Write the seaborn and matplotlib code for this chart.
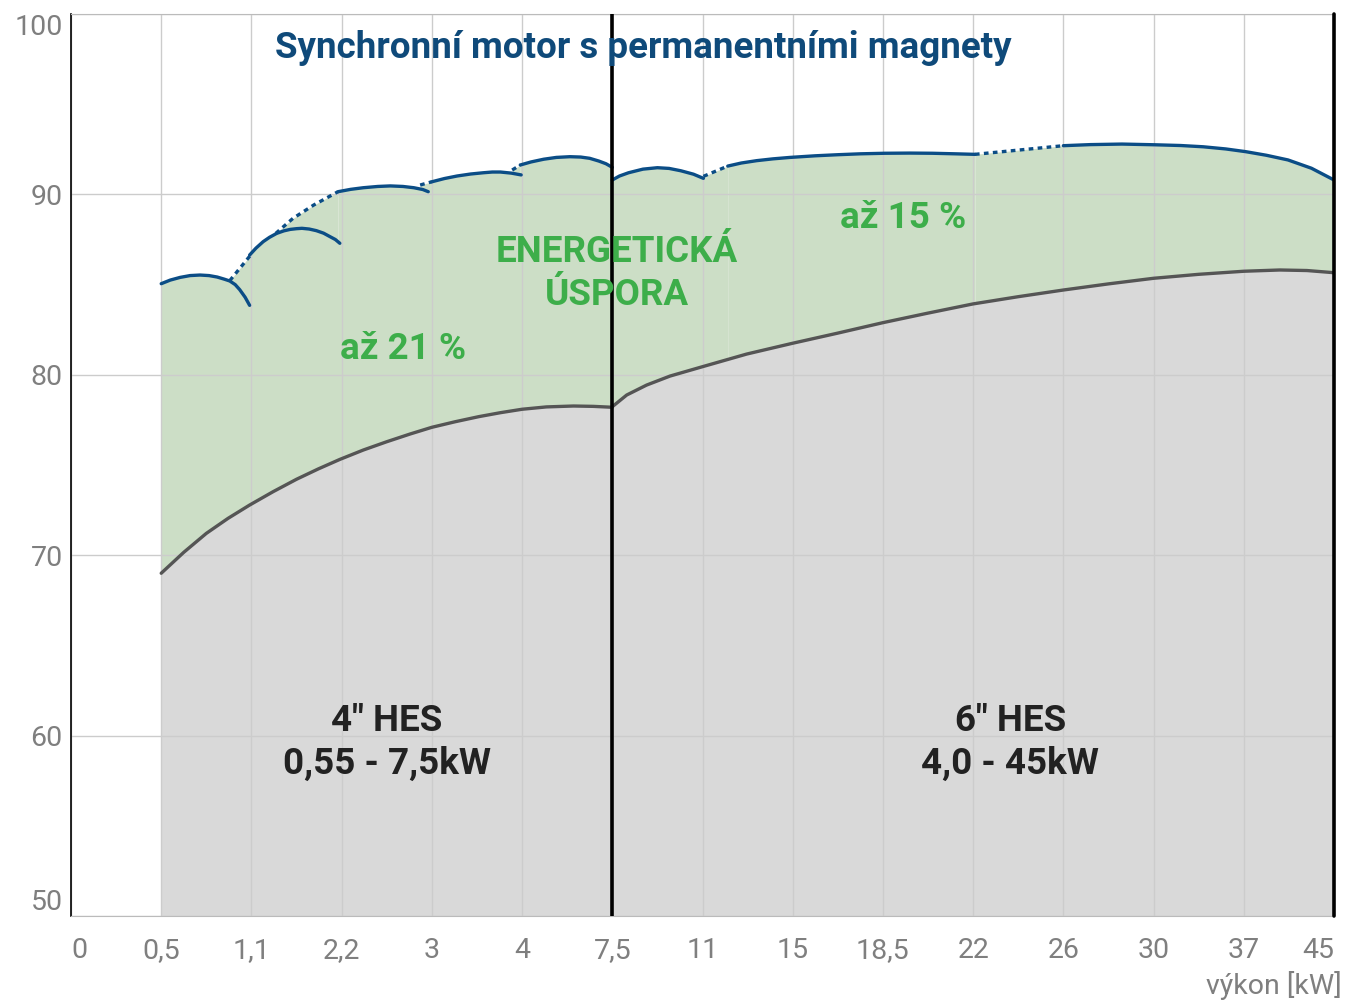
import pandas as pd
import seaborn as sns
import matplotlib
matplotlib.use("Agg")
import matplotlib.pyplot as plt

# x axis categories (kW), drawn at equal spacing: position 0 = "0", 14 = "45"
power_labels = ["0", "0,5", "1,1", "2,2", "3", "4", "7,5", "11", "15",
                "18,5", "22", "26", "30", "37", "45"]
eff_ticks = [50, 60, 70, 80, 90, 100]

# asynchronous motor efficiency (grey curve), x in category positions
async4_x = [1.0, 1.25, 1.5, 1.74, 1.98, 2.24, 2.5, 2.74, 2.98, 3.24, 3.5, 3.76,
            4.0, 4.26, 4.52, 4.76, 5.0, 5.27, 5.57, 5.79, 6.0]
async4_y = [69.0, 70.16, 71.21, 72.04, 72.78, 73.52, 74.21, 74.78, 75.31, 75.83,
            76.29, 76.72, 77.09, 77.4, 77.68, 77.9, 78.09, 78.22, 78.27, 78.25, 78.2]
async6_x = [6.0, 6.16, 6.38, 6.64, 7.0, 7.49, 8.0, 8.49, 9.0, 9.49, 10.0, 10.5,
            11.0, 11.5, 12.0, 12.5, 13.0, 13.4, 13.7, 14.0]
async6_y = [78.23, 78.88, 79.43, 79.93, 80.45, 81.15, 81.75, 82.3, 82.89, 83.41,
            83.93, 84.33, 84.7, 85.04, 85.35, 85.57, 85.74, 85.81, 85.78, 85.66]

# PM synchronous motor arcs (blue), one arc per motor size
pm1_x = [1.0, 1.1, 1.21, 1.32, 1.43, 1.53, 1.62, 1.7, 1.76, 1.82, 1.87, 1.93, 1.98]
pm1_y = [85.05, 85.25, 85.4, 85.5, 85.53, 85.5, 85.42, 85.3, 85.2, 85.0, 84.72, 84.3, 83.85]
pm2_x = [1.98, 2.05, 2.13, 2.2, 2.28, 2.36, 2.43, 2.5, 2.56, 2.64, 2.72, 2.8, 2.87, 2.93, 2.98]
pm2_y = [86.64, 87.02, 87.38, 87.62, 87.84, 87.98, 88.06, 88.1, 88.12, 88.08, 87.99,
         87.85, 87.66, 87.5, 87.29]
pm3_x = [2.96, 3.1, 3.24, 3.4, 3.54, 3.68, 3.8, 3.9, 3.96]
pm3_y = [90.15, 90.28, 90.37, 90.44, 90.47, 90.44, 90.37, 90.27, 90.15]
pm4_x = [4.0, 4.14, 4.28, 4.43, 4.57, 4.67, 4.76, 4.88, 4.99]
pm4_y = [90.7, 90.88, 91.02, 91.13, 91.2, 91.24, 91.24, 91.18, 91.08]
pm5_x = [4.98, 5.1, 5.24, 5.38, 5.53, 5.65, 5.75, 5.85, 5.93, 6.0]
pm5_y = [91.63, 91.8, 91.95, 92.05, 92.09, 92.07, 92.0, 91.85, 91.7, 91.5]
pm6_x = [6.0, 6.08, 6.18, 6.34, 6.5, 6.63, 6.76, 6.9, 7.01]
pm6_y = [90.8, 91.02, 91.2, 91.4, 91.48, 91.44, 91.31, 91.12, 90.89]
pm7_x = [7.28, 7.43, 7.6, 7.78, 7.97, 8.25, 8.5, 8.75, 9.02, 9.3, 9.55, 9.8, 10.02]
pm7_y = [91.57, 91.74, 91.87, 91.97, 92.05, 92.14, 92.2, 92.25, 92.28, 92.29, 92.28,
         92.25, 92.22]
pm8_x = [11.0, 11.3, 11.65, 12.02, 12.3, 12.55, 12.8, 13.02, 13.25, 13.49, 13.75, 14.0]
pm8_y = [92.7, 92.76, 92.79, 92.75, 92.71, 92.64, 92.52, 92.37, 92.17, 91.91, 91.45, 90.8]

# dotted links between the arcs
link_x = [[1.76, 1.99], [2.27, 2.46, 2.69, 2.96], [3.87, 4.0], [4.89, 4.98],
          [7.01, 7.28], [10.02, 11.0]]
link_y = [[85.22, 86.63], [87.84, 88.67, 89.41, 90.15], [90.52, 90.7], [91.35, 91.63],
          [91.0, 91.57], [92.22, 92.7]]

BLUE = "#0b4d86"
GREEN_FILL = "#ccdec6"
GREY_FILL = "#d9d9d9"
GREEN_TXT = "#3dae4a"
TICK = "#7f7f7f"

sns.set_style("white")
plt.rcParams["font.family"] = "Roboto"

fig = plt.figure(figsize=(13.46, 10.01), dpi=100)
ax = fig.add_axes([71 / 1346, 85 / 1001, 1263 / 1346, 902 / 1001])

arcs = [(pm1_x, pm1_y), (pm2_x, pm2_y), (pm3_x, pm3_y), (pm4_x, pm4_y),
        (pm5_x, pm5_y), (pm6_x, pm6_y), (pm7_x, pm7_y), (pm8_x, pm8_y)]
links = list(zip(link_x, link_y))
grey_curves = [(async4_x, async4_y), (async6_x, async6_y)]

# green saving area = everything under the blue arcs and links
for xs, ys in arcs + links:
    ax.fill_between(xs, 50, ys, color=GREEN_FILL, lw=0, zorder=1)
for xs, ys in grey_curves:
    ax.fill_between(xs, 50, ys, color=GREY_FILL, lw=0, zorder=1.1)

for xs, ys in grey_curves:
    df = pd.DataFrame({"x": xs, "y": ys})
    sns.lineplot(data=df, x="x", y="y", ax=ax, color="#555555", lw=2.4,
                 sort=False, estimator=None, zorder=3)
for xs, ys in arcs:
    df = pd.DataFrame({"x": xs, "y": ys})
    sns.lineplot(data=df, x="x", y="y", ax=ax, color=BLUE, lw=2.4,
                 sort=False, estimator=None, zorder=3)
for xs, ys in links:
    df = pd.DataFrame({"x": xs, "y": ys})
    sns.lineplot(data=df, x="x", y="y", ax=ax, color=BLUE, lw=2.4,
                 sort=False, estimator=None, zorder=3, linestyle=(0, (1.4, 1.3)))

ax.axvline(6, color="black", lw=2.6, zorder=4)
ax.axvline(14, color="black", lw=2.6, zorder=4, clip_on=False)

ax.set_xlim(0, 14)
ax.set_ylim(50, 100)
ax.set_xticks(range(len(power_labels)))
ax.set_xticklabels(power_labels)
ax.set_yticks(eff_ticks)
ax.set_axisbelow("line")
ax.grid(True, color="#cccccc", lw=1)
ax.tick_params(length=0, labelsize=20.5, labelcolor=TICK)
ax.tick_params(axis="x", pad=15)
ax.tick_params(axis="y", pad=6)
ax.get_xticklabels()[0].set_ha("left")
ax.get_xticklabels()[-1].set_ha("right")
ax.get_yticklabels()[-1].set_va("top")
ax.get_yticklabels()[0].set_va("bottom")

for side in ["top", "bottom"]:
    ax.spines[side].set_color("#bbbbbb")
ax.spines["right"].set_visible(False)
ax.spines["left"].set_color("black")
ax.spines["left"].set_linewidth(1.2)

ax.set_xlabel("")
ax.set_ylabel("")
fig.text(1342 / 1346, 1 - 985 / 1001, "výkon [kW]", ha="right", va="center",
         fontsize=20.5, color=TICK)

ax.text(6.34, 98.1, "Synchronní motor s permanentními magnety", ha="center",
        va="center", fontsize=26.5, fontweight="bold", color="#0f4a7a", zorder=5)
ax.text(6.05, 85.62, "ENERGETICKÁ\nÚSPORA", ha="center", va="center", fontsize=26.5,
        fontweight="bold", color=GREEN_TXT, linespacing=1.27, zorder=5)
ax.text(3.68, 81.45, "až 21 %", ha="center", va="center", fontsize=26.5,
        fontweight="bold", color=GREEN_TXT, zorder=5)
ax.text(9.22, 88.7, "až 15 %", ha="center", va="center", fontsize=26.5,
        fontweight="bold", color=GREEN_TXT, zorder=5)
ax.text(3.5, 59.62, "4\" HES\n0,55 - 7,5kW", ha="center", va="center", fontsize=26.5,
        fontweight="bold", color="#222222", linespacing=1.27, zorder=5)
ax.text(10.41, 59.62, "6\" HES\n4,0 - 45kW", ha="center", va="center", fontsize=26.5,
        fontweight="bold", color="#222222", linespacing=1.27, zorder=5)

fig.savefig("out.png", dpi=100)
